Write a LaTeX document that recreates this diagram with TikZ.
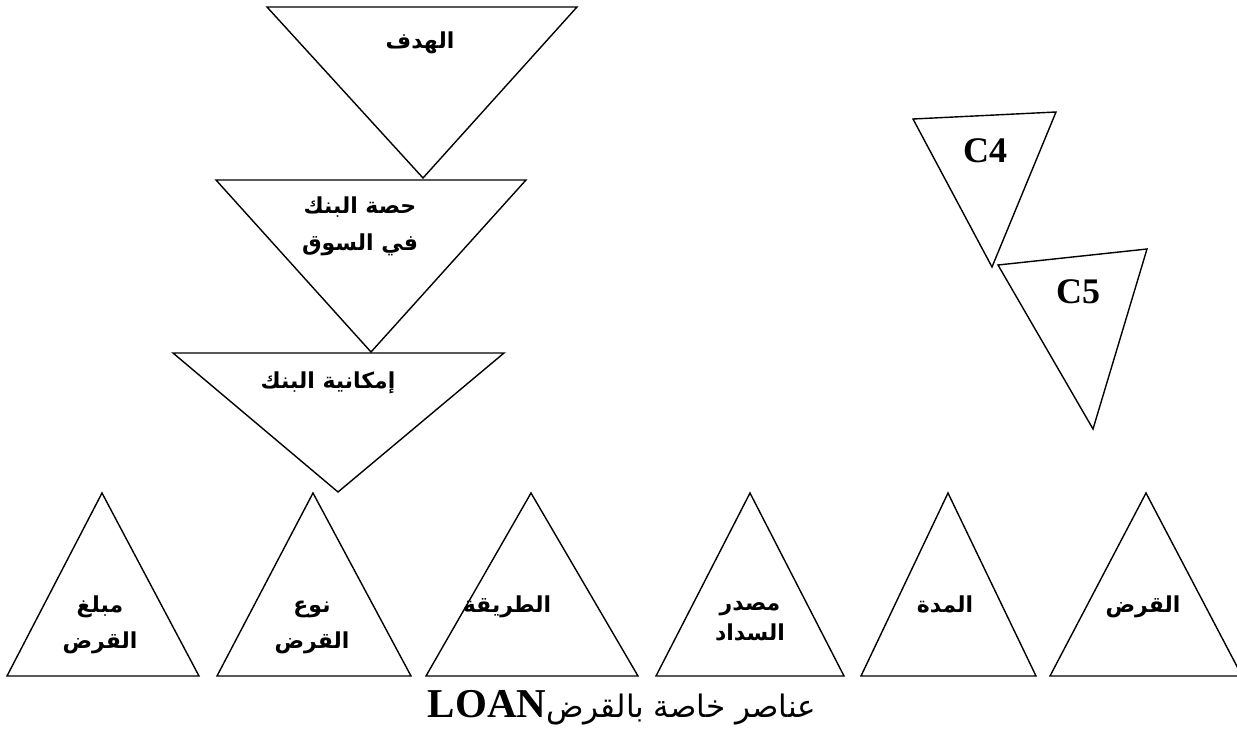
\documentclass[tikz,border=0pt]{standalone}
\usepackage{fontspec}
\setmainfont{Liberation Serif}
\newfontfamily\arabicfont[Script=Arabic]{DejaVu Sans}
\TeXXeTstate=1
\newcommand{\arb}[1]{{\arabicfont\bfseries\beginR #1\endR}}
\begin{document}
\begin{tikzpicture}[x=1pt,y=-1pt,
  tri/.style={draw=black,line width=1.4pt,line join=miter},
  lbl/.style={anchor=base,inner sep=0pt,font=\fontsize{22}{25}\selectfont},
  clbl/.style={anchor=base,inner sep=0pt,font=\fontsize{36}{40}\selectfont\bfseries}]
\useasboundingbox (0,0) rectangle (1237,742);
% inverted triangles (left column)
\draw[tri] (267,7) -- (577,7) -- (423,178) -- cycle;
\draw[tri] (216,180) -- (526,180) -- (371,352) -- cycle;
\draw[tri] (173,353) -- (504,353) -- (338,492) -- cycle;
\node[lbl] (goal) at (420,48) {\arb{الهدف}};
\node[lbl] (share1) at (360,213) {\arb{حصة البنك}};
\node[lbl] (share2) at (360,250) {\arb{في السوق}};
\node[lbl] (cap) at (328,388) {\arb{إمكانية البنك}};
% C4, C5
\draw[tri] (913,119) -- (1056,112) -- (992,267) -- cycle;
\draw[tri] (998,265) -- (1147,249) -- (1093,429) -- cycle;
\node[clbl] (c4) at (985,162) {C4};
\node[clbl] (c5) at (1078,303) {C5};
% bottom triangles
\draw[tri] (7,676) -- (199,676) -- (102,493) -- cycle;
\draw[tri] (217,676) -- (411,676) -- (313,493) -- cycle;
\draw[tri] (426,676) -- (638,676) -- (531,493) -- cycle;
\draw[tri] (656,676) -- (844,676) -- (750,493) -- cycle;
\draw[tri] (861,676) -- (1036,676) -- (948,493) -- cycle;
\draw[tri] (1050,676) -- (1242,676) -- (1146,493) -- cycle;
\node[lbl] (amt1) at (100,612) {\arb{مبلغ}};
\node[lbl] (amt2) at (100,648) {\arb{القرض}};
\node[lbl] (type1) at (312,612) {\arb{نوع}};
\node[lbl] (type2) at (312,648) {\arb{القرض}};
\node[lbl] (meth) at (507,612) {\arb{الطريقة}};
\node[lbl] (src1) at (750,610) {\arb{مصدر}};
\node[lbl] (src2) at (750,640) {\arb{السداد}};
\node[lbl] (dur) at (945,612) {\arb{المدة}};
\node[lbl] (loan) at (1143,612) {\arb{القرض}};
% caption
\node[anchor=base,inner sep=0pt] (cap2) at (622,717) {{\arabicfont\fontsize{31}{34}\selectfont\beginR عناصر خاصة بالقرض\beginL\rmfamily\bfseries\fontsize{41}{44}\selectfont LOAN\endL\endR}};
\end{tikzpicture}
\end{document}
